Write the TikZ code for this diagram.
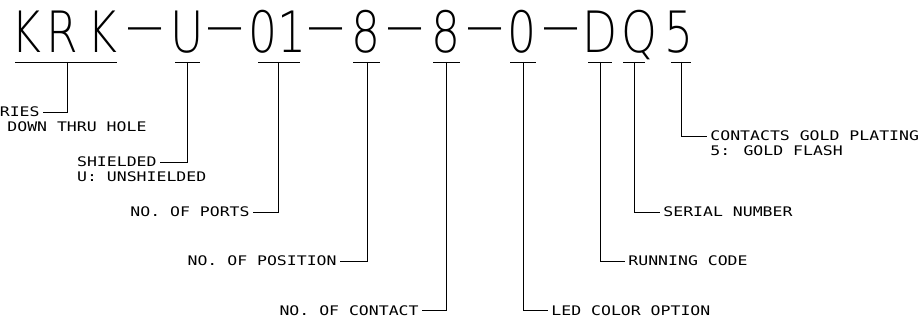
\documentclass[tikz,border=0pt]{standalone}
\usepackage{fontspec}
\IfFontExistsTF{FiraSans-Thin.otf}{\newfontfamily\codefont{FiraSans-Thin.otf}[FakeStretch=0.8]\def\codesize{59}}{\IfFontExistsTF{DejaVu Sans ExtraLight}{\newfontfamily\codefont{DejaVu Sans ExtraLight}[FakeStretch=0.8]\def\codesize{57}}{\newfontfamily\codefont{DejaVu Sans Mono}[FakeStretch=0.8]\def\codesize{57}}}
\newfontfamily\notefont{DejaVu Sans Mono}[FakeStretch=1.25]
\newcommand\codedash{\raisebox{8pt}{\scalebox{1.8}[1]{–}}}
\begin{document}
\begin{tikzpicture}[x=1pt,y=-1pt,line width=0.8pt,
  codechar/.style={anchor=base,inner sep=0pt,font=\codefont\fontsize{\codesize}{\codesize}\selectfont},
  partlabel/.style={inner xsep=3pt,inner ysep=0pt,font=\notefont\fontsize{13.2}{14}\selectfont}]
\useasboundingbox (0,0) rectangle (922,326);
\foreach \x/\t [count=\i] in {26.5/K,62.5/R,102.5/K,145/\codedash,187.5/U,225/\codedash,263/0,292/1,326/\codedash,366.5/8,405.5/\codedash,446/8,485.5/\codedash,522.5/0,561.5/\codedash,600/D,639/Q,679/5} \node[codechar] (c\i) at (\x,53) {\t};
\foreach \a/\b/\m [count=\i] in {15/117/67,175/200/187,258/300/278,353/380/367,433/460/446,510/536/523,588/612/600,623/645/634,671/691/681} {\draw (\a,62) -- (\b,62); \coordinate (u\i) at (\m,62);}
\node[partlabel,anchor=east] (series) at (43,112) {RIES};
\node[partlabel,anchor=west] (mount) at (4,127) {DOWN THRU HOLE};
\node[partlabel,anchor=east] (shield) at (160,162) {SHIELDED};
\node[partlabel,anchor=west] (unshield) at ([yshift=-14.7pt]shield.west) {U: UNSHIELDED};
\node[partlabel,anchor=east] (ports) at (253,212) {NO. OF PORTS};
\node[partlabel,anchor=east] (position) at (340,261) {NO. OF POSITION};
\node[partlabel,anchor=east] (contact) at (422,310.5) {NO. OF CONTACT};
\node[partlabel,anchor=west] (ledcolor) at (548,310.5) {LED COLOR OPTION};
\node[partlabel,anchor=west] (running) at (625,261) {RUNNING CODE};
\node[partlabel,anchor=west] (serial) at (660,212) {SERIAL NUMBER};
\node[partlabel,anchor=west] (plating) at (707,136) {CONTACTS GOLD PLATING};
\node[partlabel,anchor=west] (flash) at ([yshift=-14.7pt]plating.west) {5: GOLD FLASH};
\draw (u1) |- (series.east);
\draw (u2) |- (shield.east);
\draw (u3) |- (ports.east);
\draw (u4) |- (position.east);
\draw (u5) |- (contact.east);
\draw (u6) |- (ledcolor.west);
\draw (u7) |- (running.west);
\draw (u8) |- (serial.west);
\draw (u9) |- (plating.west);
\end{tikzpicture}
\end{document}
